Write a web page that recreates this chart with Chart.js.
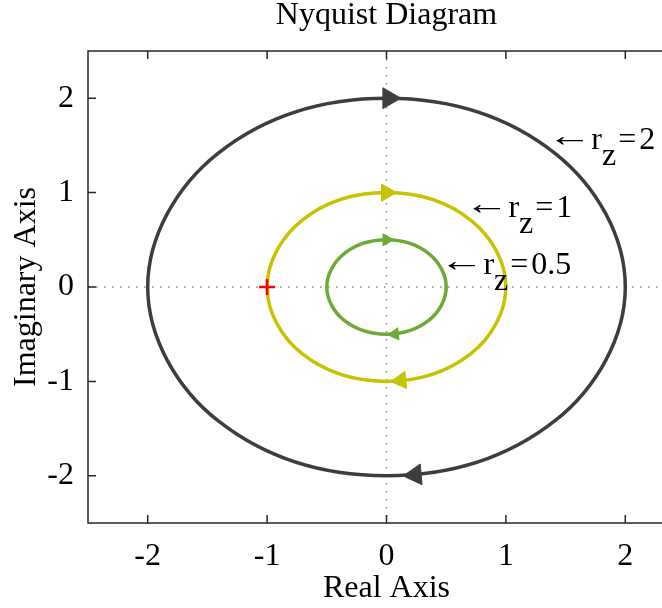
<!DOCTYPE html>
<html>
<head>
<meta charset="utf-8">
<title>Nyquist Diagram</title>
<script src="https://cdn.jsdelivr.net/npm/chart.js@4.4.1/dist/chart.umd.min.js"></script>
<style>
  html, body { margin: 0; padding: 0; background: #fff; overflow: hidden; }
  #wrap { width: 690px; height: 608px; }
  canvas { display: block; }
</style>
</head>
<body>
<div id="wrap"><canvas id="nyquistChart" width="690" height="608"></canvas></div>
<script>
// points (re / im), one loop each
const reZ2 = [2, 1.414, 0, -1.414, -2, -1.414, 0, 1.414];
const imZ2 = [0, -1.414, -2, -1.414, 0, 1.414, 2, 1.414];
const reZ1 = [1, 0.707, 0, -0.707, -1, -0.707, 0, 0.707];
const imZ1 = [0, -0.707, -1, -0.707, 0, 0.707, 1, 0.707];
const reZ05 = [0.5, 0.354, 0, -0.354, -0.5, -0.354, 0, 0.354];
const imZ05 = [0, -0.354, -0.5, -0.354, 0, 0.354, 0.5, 0.354];

// direction arrows on the curves
const arrowRe = [0.02, 0.24, 0, 0.12, 0, 0.07];
const arrowIm = [2, -1.99, 1, -0.99, 0.5, -0.5];
const arrowDir = [90, -95, 90, -96, 90, -96];

// critical point
const critRe = [-1];
const critIm = [0];

const xTicks = [-2, -1, 0, 1, 2];
const yTicks = [-2, -1, 0, 1, 2];

const rzValues = ["2", "1", "0.5"];
const labelRe = [1.414, 0.72, 0.51];
const labelIm = [1.46, 0.74, 0.14];

const dark = "#3d3d3d";
const olive = "#c6c300";
const green = "#6eaa36";
const serif = "'Liberation Serif', 'Times New Roman', serif";

function closedLoop(re, im) {
  const pts = re.map((x, i) => ({ x: x, y: im[i] }));
  const n = pts.length;
  // repeat neighbours at both ends so the spline closes smoothly
  return [pts[n - 1], ...pts, pts[0], pts[1]];
}

function loopDataset(re, im, color) {
  const data = closedLoop(re, im);
  const last = data.length - 1;
  return {
    data: data,
    showLine: true,
    borderColor: color,
    backgroundColor: color,
    borderWidth: 3.5,
    pointRadius: 0,
    tension: 0.375,
    fill: false,
    segment: {
      borderColor: (ctx) =>
        ctx.p0DataIndex === 0 || ctx.p1DataIndex === last ? "transparent" : undefined,
    },
  };
}

const zeroLines = {
  id: "zeroLines",
  beforeDatasetsDraw(chart) {
    const { ctx, chartArea, scales } = chart;
    const x0 = scales.x.getPixelForValue(0);
    const y0 = scales.y.getPixelForValue(0);
    ctx.save();
    ctx.strokeStyle = "#8a8a8a";
    ctx.lineWidth = 1.5;
    ctx.setLineDash([1.5, 6.5]);
    ctx.beginPath();
    ctx.moveTo(x0, chartArea.top);
    ctx.lineTo(x0, chartArea.bottom);
    ctx.moveTo(chartArea.left, y0);
    ctx.lineTo(chartArea.right, y0);
    ctx.stroke();
    ctx.restore();
  },
};

const axesBox = {
  id: "axesBox",
  afterDatasetsDraw(chart) {
    const { ctx, chartArea, scales } = chart;
    const { left, right, top, bottom } = chartArea;
    const tl = 8;
    ctx.save();
    ctx.strokeStyle = "#262626";
    ctx.lineWidth = 1.5;
    ctx.strokeRect(left, top, right - left, bottom - top);
    ctx.beginPath();
    xTicks.forEach((v) => {
      const px = scales.x.getPixelForValue(v);
      ctx.moveTo(px, bottom);
      ctx.lineTo(px, bottom - tl);
      ctx.moveTo(px, top);
      ctx.lineTo(px, top + tl);
    });
    yTicks.forEach((v) => {
      const py = scales.y.getPixelForValue(v);
      ctx.moveTo(left, py);
      ctx.lineTo(left + tl, py);
      ctx.moveTo(right, py);
      ctx.lineTo(right - tl, py);
    });
    ctx.stroke();

    // r_z labels
    ctx.fillStyle = "#000";
    ctx.textBaseline = "alphabetic";
    ctx.textAlign = "left";
    ctx.font = "32px " + serif;
    const am = ctx.measureText("\u2190");
    const glyphLeft = -am.actualBoundingBoxLeft;
    const glyphW = am.actualBoundingBoxRight - glyphLeft;
    const arrowLen = 28;
    const s = arrowLen / glyphW;
    rzValues.forEach((val, i) => {
      const x = scales.x.getPixelForValue(labelRe[i]);
      const y = scales.y.getPixelForValue(labelIm[i]);
      ctx.save();
      ctx.translate(x - glyphLeft * s, y - 3);
      ctx.scale(s, 1);
      ctx.fillText("\u2190", 0, 0);
      ctx.restore();
      let cx = x + arrowLen + 8;
      ctx.fillText("r", cx, y);
      cx += ctx.measureText("r").width;
      ctx.fillText("z", cx, y + 16);
      cx += ctx.measureText("z").width + 2;
      ctx.fillText("=", cx, y);
      cx += ctx.measureText("=").width + 3;
      ctx.fillText(val, cx, y);
    });
    ctx.restore();
  },
};

const config = {
  type: "scatter",
  data: {
    datasets: [
      {
        data: critRe.map((x, i) => ({ x: x, y: critIm[i] })),
        pointStyle: "cross",
        pointRadius: 8,
        borderColor: "#ff0000",
        borderWidth: 2.5,
      },
      {
        data: arrowRe.map((x, i) => ({ x: x, y: arrowIm[i] })),
        pointStyle: "triangle",
        pointRadius: [12, 12, 10, 10, 7, 7],
        rotation: arrowDir,
        backgroundColor: [dark, dark, olive, olive, green, green],
        borderColor: [dark, dark, olive, olive, green, green],
        borderWidth: 1,
      },
      loopDataset(reZ05, imZ05, green),
      loopDataset(reZ1, imZ1, olive),
      loopDataset(reZ2, imZ2, dark),
    ],
  },
  options: {
    responsive: false,
    animation: false,
    events: [],
    layout: { autoPadding: false, padding: { left: 0, top: 0, right: 5, bottom: 0 } },
    scales: {
      x: {
        type: "linear",
        position: "bottom",
        min: -2.5,
        max: 2.5,
        afterBuildTicks: (s) => {
          s.ticks = xTicks.map((v) => ({ value: v }));
        },
        afterFit: (s) => {
          s.height = 85;
          s.paddingLeft = 0;
          s.paddingRight = 0;
        },
        grid: { display: false, drawTicks: false },
        border: { display: false },
        ticks: {
          color: "#000",
          padding: 18,
          maxRotation: 0,
          autoSkip: false,
          font: { family: serif, size: 32, lineHeight: 1 },
          callback: (v) => String(v),
        },
        title: {
          display: true,
          text: "Real Axis",
          color: "#000",
          font: { family: serif, size: 32, lineHeight: 1.2 },
          padding: { top: 0, bottom: 0.6 },
        },
      },
      y: {
        type: "linear",
        position: "left",
        min: -2.5,
        max: 2.5,
        afterBuildTicks: (s) => {
          s.ticks = yTicks.map((v) => ({ value: v }));
        },
        afterFit: (s) => {
          s.width = 88;
          s.paddingTop = 0;
          s.paddingBottom = 0;
        },
        grid: { display: false, drawTicks: false },
        border: { display: false },
        ticks: {
          color: "#000",
          padding: 14,
          autoSkip: false,
          font: { family: serif, size: 32, lineHeight: 1 },
          callback: (v) => String(v),
        },
        title: {
          display: true,
          text: "Imaginary Axis",
          color: "#000",
          font: { family: serif, size: 32, lineHeight: 1.2 },
          padding: { top: 7.8, bottom: 0 },
        },
      },
    },
    plugins: {
      legend: { display: false },
      tooltip: { enabled: false },
      title: {
        display: true,
        text: "Nyquist Diagram",
        fullSize: false,
        color: "#000",
        font: { family: serif, size: 32, weight: "normal", lineHeight: 1 },
        padding: { top: 0, bottom: 19 },
      },
    },
  },
  plugins: [zeroLines, axesBox],
};

new Chart(document.getElementById("nyquistChart"), config);
</script>
</body>
</html>
